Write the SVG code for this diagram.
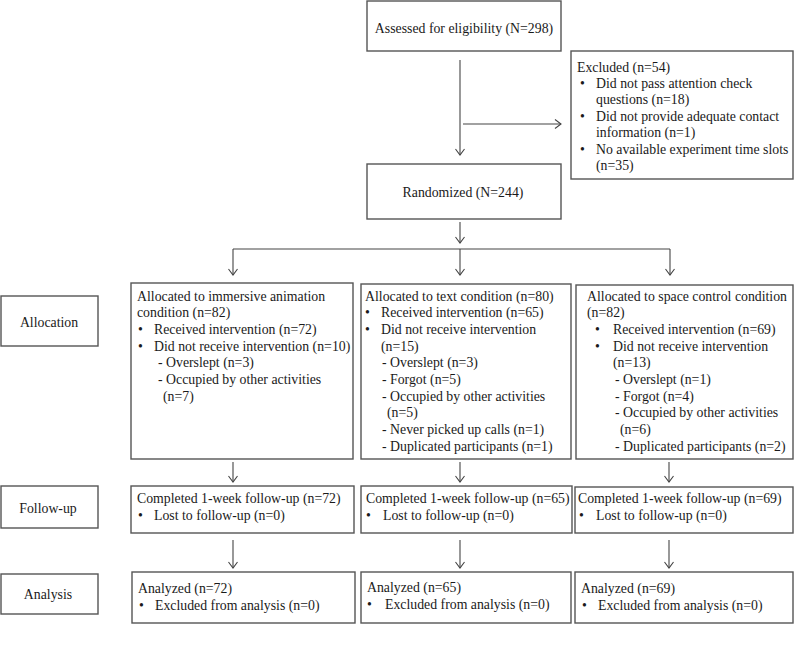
<svg xmlns="http://www.w3.org/2000/svg" width="800" height="647" viewBox="0 0 800 647">
<defs>
<style>
.box{fill:#fff;stroke:#555;stroke-width:1.4}
.t{font-family:"Liberation Serif","Times New Roman",serif;font-size:13.8px;fill:#1a1a1a}
.c{text-anchor:middle}
.ln{fill:none;stroke:#444;stroke-width:1.1}
.arr{fill:none;stroke:#444;stroke-width:1.1;marker-end:url(#ah)}
</style>
<marker id="ah" markerUnits="userSpaceOnUse" viewBox="-7 -5 8 10" markerWidth="8" markerHeight="10" refX="0" refY="0" orient="auto">
<path d="M-6,-4.5 L0,0 L-6,4.5" fill="none" stroke="#444" stroke-width="1.1"/>
</marker>
</defs>
<rect width="800" height="647" fill="#fff"/>

<g id="connectors">
<line class="arr" x1="460" y1="60" x2="460" y2="155"/>
<line class="arr" x1="463" y1="124" x2="561" y2="124"/>
<line class="arr" x1="460" y1="222" x2="460" y2="243"/>
<polyline class="ln" points="233,249 670,249"/>
<line class="arr" x1="233" y1="249" x2="233" y2="275"/>
<line class="arr" x1="460" y1="249" x2="460" y2="275"/>
<line class="arr" x1="670" y1="249" x2="670" y2="275"/>
<line class="arr" x1="233" y1="462" x2="233" y2="482"/>
<line class="arr" x1="460" y1="462" x2="460" y2="482"/>
<line class="arr" x1="669" y1="462" x2="669" y2="482"/>
<line class="arr" x1="233" y1="540" x2="233" y2="568"/>
<line class="arr" x1="460" y1="540" x2="460" y2="568"/>
<line class="arr" x1="669" y1="540" x2="669" y2="568"/>
</g>

<g id="assessed">
<rect class="box" x="367" y="1" width="194" height="50"/>
<text class="t c" x="464" y="33">Assessed for eligibility (N=298)</text>
</g>

<g id="excluded">
<rect class="box" x="571" y="51" width="222" height="128"/>
<text class="t" x="577" y="72">Excluded (n=54)</text>
<text class="t" x="580" y="88">•</text><text class="t" x="596" y="88">Did not pass attention check</text>
<text class="t" x="596" y="104">questions (n=18)</text>
<text class="t" x="580" y="121">•</text><text class="t" x="596" y="121">Did not provide adequate contact</text>
<text class="t" x="596" y="137">information (n=1)</text>
<text class="t" x="580" y="154">•</text><text class="t" x="596" y="154">No available experiment time slots</text>
<text class="t" x="596" y="170">(n=35)</text>
</g>

<g id="randomized">
<rect class="box" x="367" y="164" width="194" height="55"/>
<text class="t c" x="463" y="197">Randomized (N=244)</text>
</g>

<g id="allocation-label">
<rect class="box" x="1" y="296" width="97" height="50"/>
<text class="t c" x="49" y="327">Allocation</text>
</g>

<g id="followup-label">
<rect class="box" x="1" y="486" width="97" height="42"/>
<text class="t c" x="48" y="513">Follow-up</text>
</g>

<g id="analysis-label">
<rect class="box" x="1" y="574" width="97" height="40"/>
<text class="t c" x="48" y="599">Analysis</text>
</g>

<g id="alloc-animation">
<rect class="box" x="131" y="283" width="222" height="176"/>
<text class="t" x="137" y="301">Allocated to immersive animation</text>
<text class="t" x="137" y="317">condition (n=82)</text>
<text class="t" x="138" y="334">•</text><text class="t" x="154" y="334">Received intervention (n=72)</text>
<text class="t" x="138" y="351">•</text><text class="t" x="154" y="351">Did not receive intervention (n=10)</text>
<text class="t" x="158" y="367">- Overslept (n=3)</text>
<text class="t" x="158" y="384">- Occupied by other activities</text>
<text class="t" x="163" y="401">(n=7)</text>
</g>

<g id="alloc-text">
<rect class="box" x="361" y="284" width="210" height="175"/>
<text class="t" x="365" y="301">Allocated to text condition (n=80)</text>
<text class="t" x="365" y="317">•</text><text class="t" x="381" y="317">Received intervention (n=65)</text>
<text class="t" x="365" y="334">•</text><text class="t" x="381" y="334">Did not receive intervention</text>
<text class="t" x="381" y="351">(n=15)</text>
<text class="t" x="382" y="367">- Overslept (n=3)</text>
<text class="t" x="382" y="384">- Forgot (n=5)</text>
<text class="t" x="382" y="401">- Occupied by other activities</text>
<text class="t" x="387" y="417">(n=5)</text>
<text class="t" x="382" y="434">- Never picked up calls (n=1)</text>
<text class="t" x="382" y="451">- Duplicated participants (n=1)</text>
</g>

<g id="alloc-space">
<rect class="box" x="576" y="285" width="217" height="174"/>
<text class="t" x="587" y="301">Allocated to space control condition</text>
<text class="t" x="587" y="317">(n=82)</text>
<text class="t" x="595" y="334">•</text><text class="t" x="613" y="334">Received intervention (n=69)</text>
<text class="t" x="595" y="351">•</text><text class="t" x="613" y="351">Did not receive intervention</text>
<text class="t" x="613" y="367">(n=13)</text>
<text class="t" x="615" y="384">- Overslept (n=1)</text>
<text class="t" x="615" y="401">- Forgot (n=4)</text>
<text class="t" x="615" y="417">- Occupied by other activities</text>
<text class="t" x="620" y="434">(n=6)</text>
<text class="t" x="615" y="451">- Duplicated participants (n=2)</text>
</g>

<g id="followup-animation">
<rect class="box" x="131" y="486" width="223" height="47"/>
<text class="t" x="137" y="503">Completed 1-week follow-up (n=72)</text>
<text class="t" x="138" y="520">•</text><text class="t" x="154" y="520">Lost to follow-up (n=0)</text>
</g>

<g id="followup-text">
<rect class="box" x="361" y="486" width="211" height="47"/>
<text class="t" x="366" y="503">Completed 1-week follow-up (n=65)</text>
<text class="t" x="366" y="520">•</text><text class="t" x="383" y="520">Lost to follow-up (n=0)</text>
</g>

<g id="followup-space">
<rect class="box" x="575" y="487" width="218" height="46"/>
<text class="t" x="578" y="503">Completed 1-week follow-up (n=69)</text>
<text class="t" x="579" y="520">•</text><text class="t" x="596" y="520">Lost to follow-up (n=0)</text>
</g>

<g id="analysis-animation">
<rect class="box" x="132" y="572" width="223" height="51"/>
<text class="t" x="138" y="593">Analyzed (n=72)</text>
<text class="t" x="139" y="610">•</text><text class="t" x="155" y="610">Excluded from analysis (n=0)</text>
</g>

<g id="analysis-text">
<rect class="box" x="361" y="572" width="210" height="51"/>
<text class="t" x="367" y="592">Analyzed (n=65)</text>
<text class="t" x="367" y="609">•</text><text class="t" x="385" y="609">Excluded from analysis (n=0)</text>
</g>

<g id="analysis-space">
<rect class="box" x="575" y="572" width="218" height="51"/>
<text class="t" x="581" y="593">Analyzed (n=69)</text>
<text class="t" x="582" y="610">•</text><text class="t" x="598" y="610">Excluded from analysis (n=0)</text>
</g>
</svg>
